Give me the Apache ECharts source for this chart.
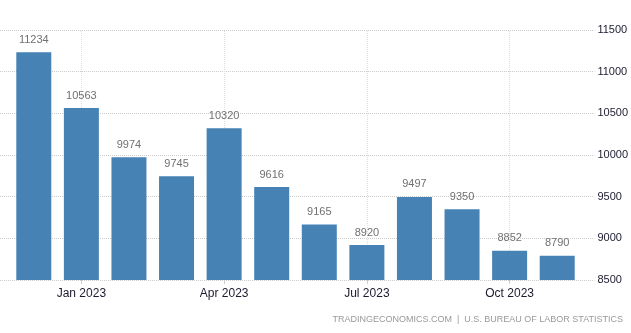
<!DOCTYPE html>
<html><head><meta charset="utf-8">
<script src="https://cdn.jsdelivr.net/npm/echarts@6/dist/echarts.min.js"></script>
<style>html,body{margin:0;padding:0;background:#fff;}#c{width:631px;height:333px;}</style>
</head><body><div id="c"></div>
<script>
const categories = ['Dec 2022','Jan 2023','Feb 2023','Mar 2023','Apr 2023','May 2023','Jun 2023','Jul 2023','Aug 2023','Sep 2023','Oct 2023','Nov 2023'];
const values = [11234, 10563, 9974, 9745, 10320, 9616, 9165, 8920, 9497, 9350, 8852, 8790];
const tickLabelIdx = [1, 4, 7, 10];
const yMin = 8500, yMax = 11500, yStep = 500;
const sourceText = 'TRADINGECONOMICS.COM  |  U.S. BUREAU OF LABOR STATISTICS';

const font = 'Liberation Sans, Arial, sans-serif';
const chart = echarts.init(document.getElementById('c'), null, {renderer: 'canvas'});
chart.setOption({
  animation: false,
  backgroundColor: '#fff',
  grid: [
    {left: 10, right: 50, top: 30, bottom: 53},
    {left: 0, right: 34, top: 30, bottom: 53}
  ],
  xAxis: [
    {type: 'category', gridIndex: 0, data: categories,
     axisLine: {show: false},
     axisTick: {show: true, alignWithLabel: true, length: 4, interval: (i) => tickLabelIdx.includes(i), lineStyle: {color: '#ccc'}},
     axisLabel: {interval: (i) => tickLabelIdx.includes(i), color: '#1b1b2f', fontFamily: font, fontSize: 12, margin: 8},
     splitLine: {show: false}},
    {type: 'value', gridIndex: 1, show: false}
  ],
  yAxis: [
    {type: 'value', gridIndex: 0, min: yMin, max: yMax, interval: yStep, show: false, splitLine: {show: false}},
    {type: 'value', gridIndex: 1, position: 'right', min: yMin, max: yMax, interval: yStep,
     axisLine: {show: false}, axisTick: {show: false},
     axisLabel: {color: '#1b1b2f', fontFamily: font, fontSize: 11, margin: 3, formatter: (v) => String(v)},
     splitLine: {show: true, lineStyle: {color: '#ccc', type: 'dotted'}}}
  ],
  series: [{
    type: 'bar', xAxisIndex: 0, yAxisIndex: 0, data: values, barWidth: 35,
    itemStyle: {color: '#4682b4'},
    label: {show: true, position: 'top', distance: 7, color: '#707070', fontFamily: font, fontSize: 11},
    markLine: {
      silent: true, symbol: 'none', z: 0,
      label: {show: false},
      lineStyle: {color: '#ddd', type: 'dotted', width: 1},
      data: tickLabelIdx.map(i => ({xAxis: categories[i]}))
    }
  }],
  graphic: [{
    type: 'text', right: 8, top: 315,
    style: {text: sourceText, fill: '#999', font: '9px ' + font}
  }]
});
</script></body></html>
